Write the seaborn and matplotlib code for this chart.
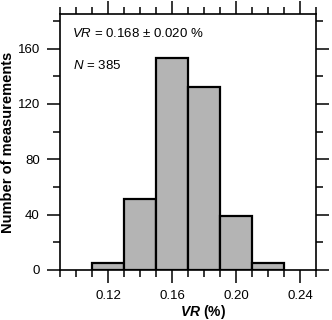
import numpy as np
import pandas as pd
import matplotlib
matplotlib.use("Agg")
import matplotlib.pyplot as plt
from matplotlib.ticker import MultipleLocator
import seaborn as sns

bin_edges = [0.11, 0.13, 0.15, 0.17, 0.19, 0.21, 0.23]
bin_counts = [5, 51, 153, 132, 39, 5]
bin_centers = [0.12, 0.14, 0.16, 0.18, 0.20, 0.22]
x_ticks = [0.12, 0.16, 0.20, 0.24]
y_ticks = [0, 40, 80, 120, 160]

sns.set_style("ticks")
plt.rcParams["font.family"] = ["Liberation Sans", "DejaVu Sans"]
plt.rcParams["text.color"] = "black"
plt.rcParams["axes.labelcolor"] = "black"
plt.rcParams["mathtext.fontset"] = "custom"
plt.rcParams["mathtext.rm"] = "Liberation Sans"
plt.rcParams["mathtext.it"] = "Liberation Sans:italic"
plt.rcParams["mathtext.bf"] = "Liberation Sans:bold"
plt.rcParams["mathtext.bfit"] = "Liberation Sans:italic:bold"

df = pd.DataFrame({"VR": bin_centers, "count": bin_counts})

fig = plt.figure(figsize=(3.32, 3.20), dpi=100)
ax = fig.add_axes([60 / 332, 1 - 270 / 320, 256 / 332, 256 / 320])

sns.histplot(data=df, x="VR", weights="count", bins=bin_edges, ax=ax,
             color="#b4b4b4", edgecolor="black", linewidth=1.6, alpha=1)

ax.set_xlim(0.09, 0.25)
ax.set_ylim(0, 185)
ax.set_xticks(x_ticks)
ax.set_xticklabels([f"{t:.2f}" for t in x_ticks])
ax.set_yticks(y_ticks)
ax.xaxis.set_minor_locator(MultipleLocator(0.01))
ax.yaxis.set_minor_locator(MultipleLocator(20))

for side in ["top", "right", "left", "bottom"]:
    ax.spines[side].set_visible(True)
    ax.spines[side].set_linewidth(1.2)
    ax.spines[side].set_color("black")

ax.tick_params(which="both", direction="out", top=True, right=True,
               width=1.1, colors="black", labelsize=9.5)
ax.tick_params(which="major", length=9.5, pad=5)
ax.tick_params(which="minor", length=5)

ax.set_xlabel(r"$\mathbfit{VR}$ (%)", fontsize=10, fontweight="bold")
ax.xaxis.set_label_coords((203 - 60) / 256, -0.13)
ax.set_ylabel("Number of measurements", fontsize=10.5, fontweight="bold")
ax.yaxis.set_label_coords(-0.176, 0.5)

ax.text(0.047, 0.925, r"$\it{VR}$ = 0.168 ± 0.020 %", transform=ax.transAxes,
        fontsize=9.5, va="center", ha="left")
ax.text(0.05, 0.80, r"$\it{N}$ = 385", transform=ax.transAxes,
        fontsize=9.5, va="center", ha="left")

plt.savefig("out.png", dpi=100)
plt.close()
